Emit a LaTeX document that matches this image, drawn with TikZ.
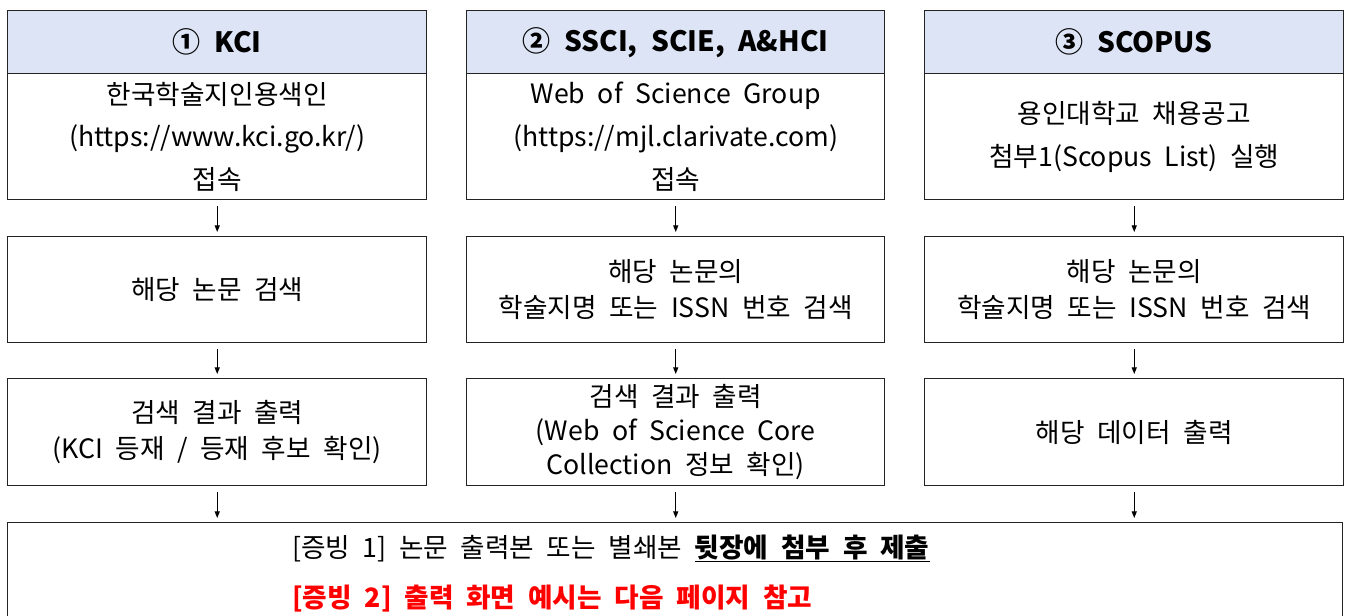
\documentclass[tikz,border=0pt]{standalone}
\usepackage{fontspec}
\setmainfont{Noto Sans CJK KR}[WordSpace={2.1,0,0}]
\usetikzlibrary{arrows.meta}
\definecolor{hdr}{RGB}{221,228,246}
\definecolor{edge}{RGB}{35,35,35}
\definecolor{redtxt}{RGB}{255,0,0}
\begin{document}
\begin{tikzpicture}[x=0.75pt,y=-0.75pt,
  cell/.style 2 args={draw=edge,line width=1.1pt,inner sep=0pt,anchor=north west,align=center,
    minimum width=#1*0.75pt,minimum height=#2*0.75pt},
  head/.style={fill=hdr,font=\fontsize{21}{24}\bfseries\selectfont},
  tall/.style={font=\fontsize{20}{32}\selectfont},
  mid/.style={font=\fontsize{20}{27}\selectfont},
  tight/.style={font=\fontsize{20}{25.5}\selectfont},
  arr/.style={draw=black,line width=0.9pt,-{Triangle[length=5pt,width=3.8pt]},
    shorten <=4.5pt,shorten >=3pt}]
\useasboundingbox (0,0) rectangle (1345,615);
\fill[white] (0,0) rectangle (1345,615);
% column 1
\node[cell={419}{63},head] (h1) at (7,10) {① KCI};
\node[cell={419}{126},tall] (b1) at (7,73) {한국학술지인용색인\\(https://www.kci.go.kr/)\\접속};
\node[cell={419}{106},mid] (s1) at (7,236) {해당 논문 검색};
\node[cell={419}{107},mid] (r1) at (7,378) {검색 결과 출력\\(KCI 등재 / 등재 후보 확인)};
% column 2
\node[cell={418}{63},head] (h2) at (466,10) {② SSCI, SCIE, A\&HCI};
\node[cell={418}{126},tall] (b2) at (466,73) {Web of Science Group\\(https://mjl.clarivate.com)\\접속};
\node[cell={418}{106},mid] (s2) at (466,236) {해당 논문의\\학술지명 또는 ISSN 번호 검색};
\node[cell={418}{107},tight] (r2) at (466,378) {검색 결과 출력\\(Web of Science Core\\Collection 정보 확인)};
% column 3
\node[cell={419}{63},head] (h3) at (924,10) {③ SCOPUS};
\node[cell={419}{126},tall] (b3) at (924,73) {용인대학교 채용공고\\첨부1(Scopus List) 실행};
\node[cell={419}{106},mid] (s3) at (924,236) {해당 논문의\\학술지명 또는 ISSN 번호 검색};
\node[cell={419}{107},mid] (r3) at (924,378) {해당 데이터 출력};
% bottom
\node[cell={1335}{140}] (bot) at (7,522) {};
\node[anchor=base west,inner sep=0pt,font=\fontsize{20}{24}\selectfont] (t1) at (292,557)
  {[증빙 1] 논문 출력본 또는 별쇄본 \textbf{\underline{뒷장에 첨부 후 제출}}};
\node[anchor=base west,inner sep=0pt,font=\fontsize{20}{24}\bfseries\selectfont,text=redtxt] (t2) at (292,607)
  {[증빙 2] 출력 화면 예시는 다음 페이지 참고};
% arrows
\foreach \c in {1,2,3}{
  \draw[arr] (b\c.south) -- (s\c.north);
  \draw[arr] (s\c.south) -- (r\c.north);
  \draw[arr] (r\c.south) -- (r\c.south |- bot.north);
}
\end{tikzpicture}
\end{document}
